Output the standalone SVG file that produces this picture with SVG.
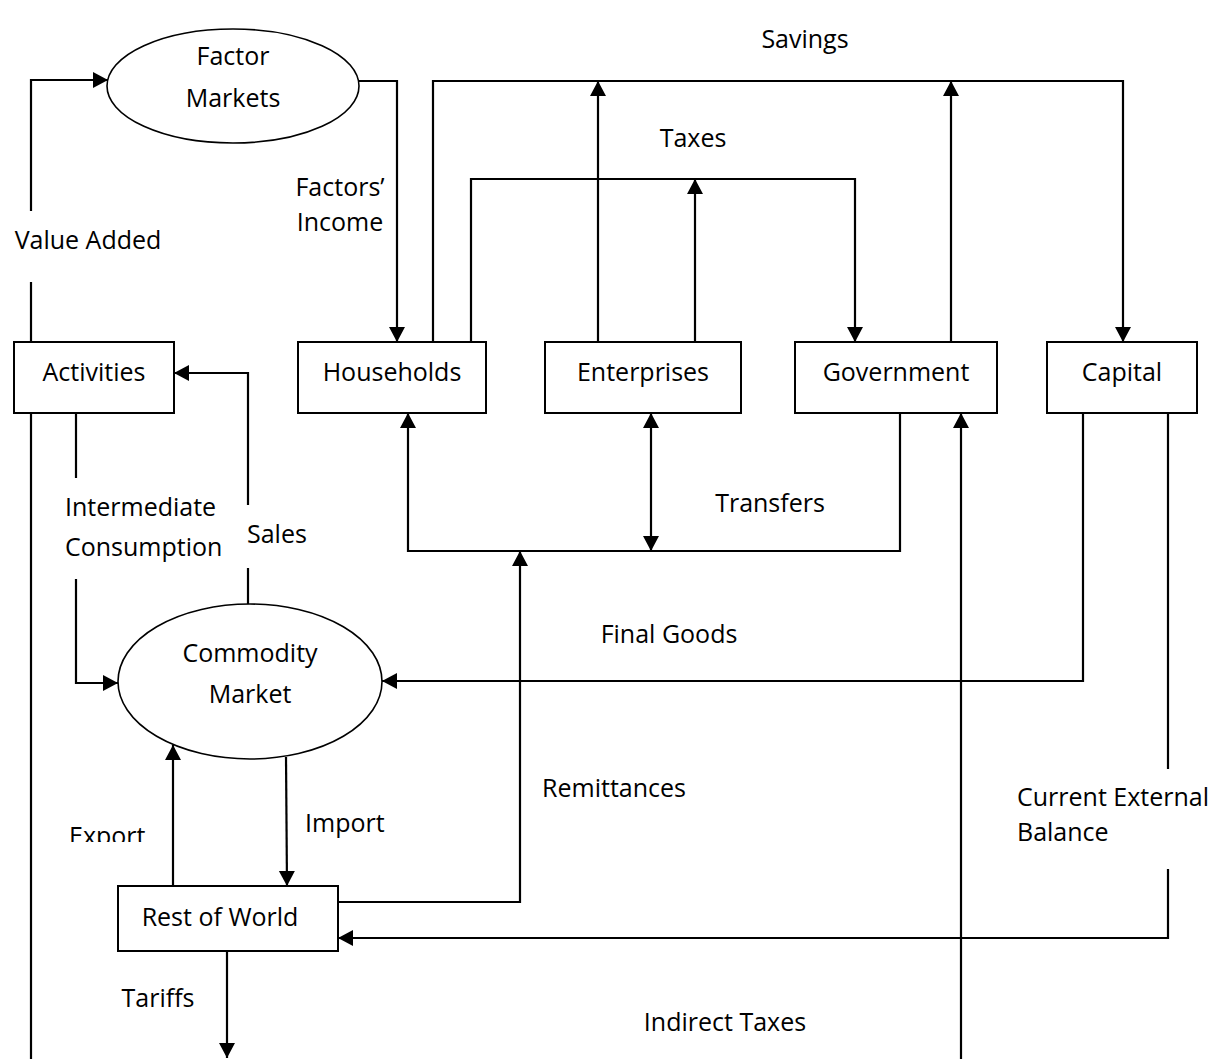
<svg xmlns="http://www.w3.org/2000/svg" width="1218" height="1059" viewBox="0 0 1218 1059">
  <style>
    text { font-family: "Open Sans", "Liberation Sans", sans-serif; font-size: 25px; fill: #000; }
    .c { text-anchor: middle; }
    .node { fill: #fff; stroke: #000; stroke-width: 2; }
    .ell { fill: #fff; stroke: #000; stroke-width: 1.6; }
    .ln { fill: none; stroke: #000; stroke-width: 2.2; }
    .arr { marker-end: url(#ah); }
  </style>
  <defs>
    <marker id="ah" markerUnits="userSpaceOnUse" markerWidth="16" markerHeight="17" refX="15" refY="8" orient="auto-start-reverse">
      <path d="M0,0 L15,8 L0,16 z" fill="#000"/>
    </marker>
    <clipPath id="expClip"><rect x="60" y="800" width="100" height="42"/></clipPath>
  </defs>
  <rect width="1218" height="1059" fill="#fff"/>

  <g id="connectors">
    <!-- Value Added -->
    <line class="ln" x1="31" y1="342" x2="31" y2="282"/>
    <path class="ln arr" d="M31,211 L31,80 L108,80"/>
    <!-- Factors' Income -->
    <path class="ln arr" d="M358,81 L397,81 L397,342"/>
    <!-- Savings -->
    <path class="ln arr" d="M433,342 L433,81 L1123,81 L1123,342"/>
    <line class="ln arr" x1="598" y1="342" x2="598" y2="81"/>
    <line class="ln arr" x1="951" y1="342" x2="951" y2="81"/>
    <!-- Taxes -->
    <path class="ln arr" d="M471,342 L471,179 L855,179 L855,342"/>
    <line class="ln arr" x1="695" y1="342" x2="695" y2="179"/>
    <!-- Indirect taxes -->
    <line class="ln" x1="31" y1="413" x2="31" y2="1059"/>
    <line class="ln arr" x1="961" y1="1059" x2="961" y2="413"/>
    <!-- Intermediate consumption -->
    <line class="ln" x1="76" y1="413" x2="76" y2="478"/>
    <path class="ln arr" d="M76,579 L76,683 L118,683"/>
    <!-- Sales -->
    <line class="ln" x1="248" y1="604" x2="248" y2="568"/>
    <path class="ln arr" d="M248,505 L248,373 L174,373"/>
    <!-- Transfers -->
    <path class="ln arr" d="M900,413 L900,551 L408,551 L408,413"/>
    <line class="ln arr" x1="651" y1="413" x2="651" y2="551" marker-start="url(#ah)"/>
    <!-- Remittances -->
    <path class="ln arr" d="M338,902 L520,902 L520,551"/>
    <!-- Final Goods -->
    <path class="ln arr" d="M1083,413 L1083,681 L382,681"/>
    <!-- Current External Balance -->
    <line class="ln" x1="1168" y1="413" x2="1168" y2="769"/>
    <path class="ln arr" d="M1168,869 L1168,938 L338,938"/>
    <!-- Export / Import -->
    <line class="ln arr" x1="173" y1="886" x2="173" y2="745"/>
    <line class="ln arr" x1="286" y1="757" x2="287" y2="886"/>
    <!-- Tariffs -->
    <line class="ln arr" x1="227" y1="951" x2="227" y2="1058"/>
  </g>

  <g id="labels">
    <text class="c" x="805" y="48">Savings</text>
    <text class="c" x="693" y="147">Taxes</text>
    <text class="c" x="340" y="196">Factors’</text>
    <text class="c" x="340" y="231">Income</text>
    <text class="c" x="88" y="249">Value Added</text>
    <text x="65" y="516">Intermediate</text>
    <text x="65" y="556">Consumption</text>
    <text x="247" y="543">Sales</text>
    <text class="c" x="770" y="512">Transfers</text>
    <text class="c" x="669" y="643">Final Goods</text>
    <text class="c" x="614" y="797">Remittances</text>
    <text x="305" y="832">Import</text>
    <text x="69" y="845" clip-path="url(#expClip)">Export</text>
    <text x="1017" y="806">Current External</text>
    <text x="1017" y="841">Balance</text>
    <text class="c" x="158" y="1007">Tariffs</text>
    <text class="c" x="725" y="1031">Indirect Taxes</text>
  </g>

  <g id="factor-markets">
    <ellipse class="ell" cx="233" cy="86" rx="126" ry="57"/>
    <text class="c" x="233" y="65">Factor</text>
    <text class="c" x="233" y="107">Markets</text>
  </g>
  <g id="activities">
    <rect class="node" x="14" y="342" width="160" height="71"/>
    <text class="c" x="94" y="381">Activities</text>
  </g>
  <g id="households">
    <rect class="node" x="298" y="342" width="188" height="71"/>
    <text class="c" x="392" y="381">Households</text>
  </g>
  <g id="enterprises">
    <rect class="node" x="545" y="342" width="196" height="71"/>
    <text class="c" x="643" y="381">Enterprises</text>
  </g>
  <g id="government">
    <rect class="node" x="795" y="342" width="202" height="71"/>
    <text class="c" x="896" y="381">Government</text>
  </g>
  <g id="capital">
    <rect class="node" x="1047" y="342" width="150" height="71"/>
    <text class="c" x="1122" y="381">Capital</text>
  </g>
  <g id="commodity-market">
    <ellipse class="ell" cx="250" cy="681.5" rx="132" ry="77.5"/>
    <text class="c" x="250" y="662">Commodity</text>
    <text class="c" x="250" y="703">Market</text>
  </g>
  <g id="rest-of-world">
    <rect class="node" x="118" y="886" width="220" height="65"/>
    <text class="c" x="220" y="926">Rest of World</text>
  </g>
</svg>
